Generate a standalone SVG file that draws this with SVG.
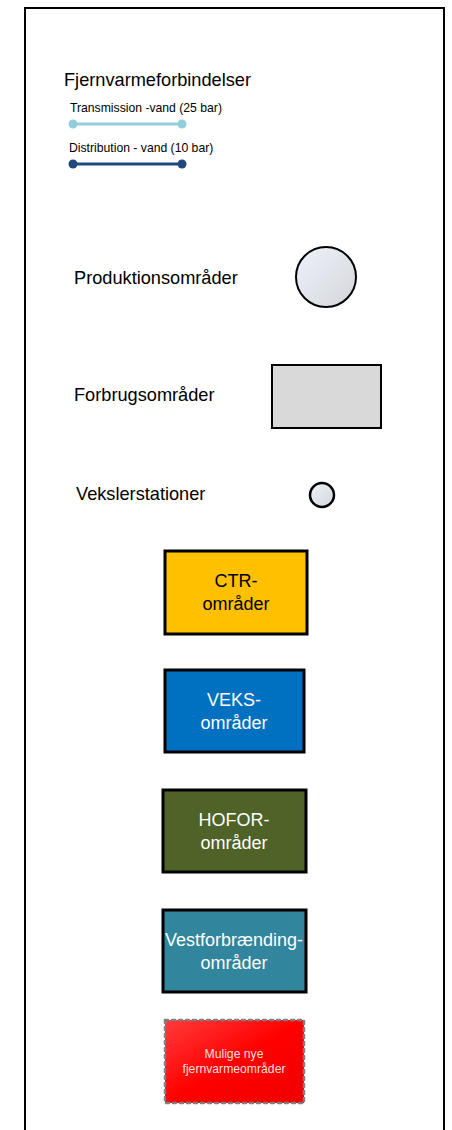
<svg xmlns="http://www.w3.org/2000/svg" width="452" height="1130" viewBox="0 0 452 1130">
<style>
text{font-family:"Liberation Sans",Arial,sans-serif;fill:#000}
.lbl{font-size:18.2px}
.sm{font-size:12.2px}
.box{stroke:#000;stroke-width:3}
.bt{font-size:18px;text-anchor:middle}
.w{fill:#fff}
</style>
<defs>
<linearGradient id="gc" x1="0" y1="0" x2="1" y2="1"><stop offset="0" stop-color="#eef2fa"/><stop offset="1" stop-color="#d4d6da"/></linearGradient>
<linearGradient id="gr" x1="0" y1="0" x2="1" y2="1"><stop offset="0" stop-color="#ff3b3b"/><stop offset="0.5" stop-color="#ff0000"/><stop offset="1" stop-color="#f00000"/></linearGradient>
</defs>
<rect id="frame" x="25" y="8" width="419" height="1140" fill="#fff" stroke="#000" stroke-width="2"/>
<g id="legend-header"><text class="lbl" x="64" y="86">Fjernvarmeforbindelser</text></g>
<g id="connectors">
<g id="transmission">
<text class="sm" x="70" y="112">Transmission -vand (25 bar)</text>
<line x1="73" y1="124" x2="182" y2="124" stroke="#92cddc" stroke-width="3"/>
<circle cx="73" cy="124" r="4.5" fill="#92cddc"/><circle cx="182" cy="124" r="4.5" fill="#92cddc"/>
</g>
<g id="distribution">
<text class="sm" x="69" y="152">Distribution - vand (10 bar)</text>
<line x1="73" y1="164" x2="182" y2="164" stroke="#1f497d" stroke-width="3"/>
<circle cx="73" cy="164" r="4.5" fill="#1f497d"/><circle cx="182" cy="164" r="4.5" fill="#1f497d"/>
</g>
</g>
<g id="produktion">
<text class="lbl" x="74" y="284">Produktionsområder</text>
<circle cx="326" cy="277" r="30" fill="url(#gc)" stroke="#000" stroke-width="2"/>
</g>
<g id="forbrug">
<text class="lbl" x="74" y="401">Forbrugsområder</text>
<rect x="272" y="365" width="109" height="63" fill="#d9d9d9" stroke="#000" stroke-width="2"/>
</g>
<g id="veksler">
<text class="lbl" x="76" y="500">Vekslerstationer</text>
<circle cx="322" cy="495" r="12" fill="url(#gc)" stroke="#000" stroke-width="2.5"/>
</g>
<g id="ctr">
<rect class="box" x="165" y="551" width="142" height="83" fill="#ffc000"/>
<text class="bt" x="236" y="587">CTR-</text><text class="bt" x="236" y="610">områder</text>
</g>
<g id="veks">
<rect class="box" x="165" y="670" width="139" height="82" fill="#0070c0"/>
<text class="bt w" x="234" y="706">VEKS-</text><text class="bt w" x="234" y="729">områder</text>
</g>
<g id="hofor">
<rect class="box" x="163" y="790" width="143" height="82" fill="#4f6228"/>
<text class="bt w" x="234" y="826">HOFOR-</text><text class="bt w" x="234" y="849">områder</text>
</g>
<g id="vestforbraending">
<rect class="box" x="163" y="910" width="143" height="82" fill="#31859c"/>
<text class="bt w" x="234" y="946">Vestforbrænding-</text><text class="bt w" x="234" y="969">områder</text>
</g>
<g id="mulige">
<rect x="165" y="1020" width="139" height="83" fill="url(#gr)" stroke="#808080" stroke-width="2.5" stroke-dasharray="3,4" stroke-linecap="round"/>
<text class="sm" x="234" y="1058" text-anchor="middle" style="fill:#ffdede">Mulige nye</text>
<text class="sm" x="234" y="1073" text-anchor="middle" style="fill:#ffdede">fjernvarmeområder</text>
</g>
</svg>
